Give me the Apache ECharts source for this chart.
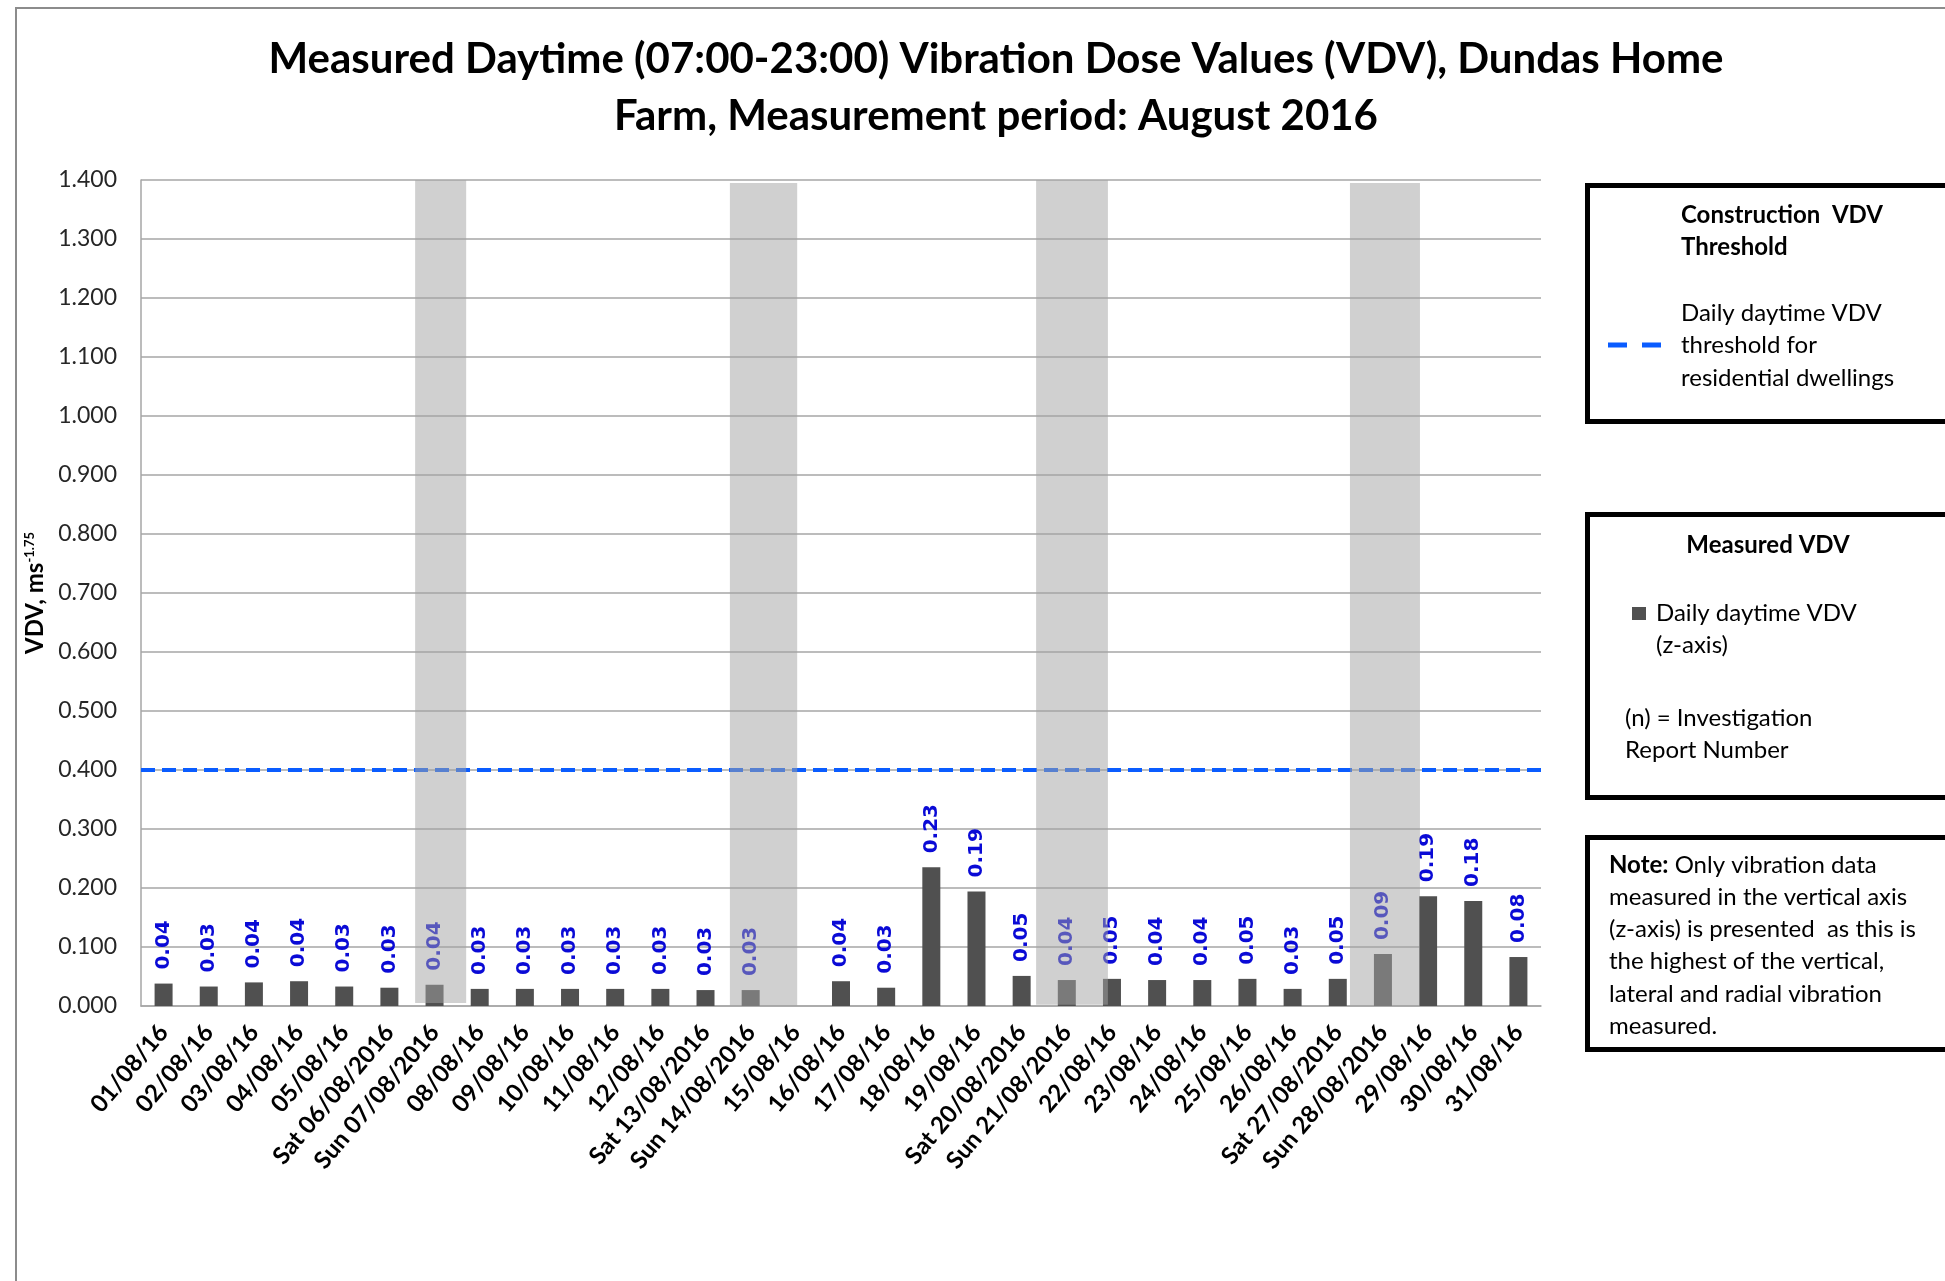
<!DOCTYPE html>
<html>
<head>
<meta charset="utf-8">
<title>Measured Daytime VDV - Dundas Home Farm</title>
<script src="https://cdn.jsdelivr.net/npm/echarts@6/dist/echarts.min.js"></script>
<style>
    html, body { margin: 0; padding: 0; background: #fff; }
    #myEchart { width: 1945px; height: 1281px; }
</style>
</head>
<body>
<div id="myEchart"></div>
<script>
// one entry per day of August 2016
var days = [
    '01/08/16', '02/08/16', '03/08/16', '04/08/16', '05/08/16', 'Sat 06/08/2016', 'Sun 07/08/2016',
    '08/08/16', '09/08/16', '10/08/16', '11/08/16', '12/08/16', 'Sat 13/08/2016', 'Sun 14/08/2016',
    '15/08/16', '16/08/16', '17/08/16', '18/08/16', '19/08/16', 'Sat 20/08/2016', 'Sun 21/08/2016',
    '22/08/16', '23/08/16', '24/08/16', '25/08/16', '26/08/16', 'Sat 27/08/2016', 'Sun 28/08/2016',
    '29/08/16', '30/08/16', '31/08/16'
];
// daily daytime VDV (z-axis), ms^-1.75 ; 15/08 has no measurement
var vdv = [
    0.038, 0.033, 0.040, 0.042, 0.033, 0.031, 0.036,
    0.029, 0.029, 0.029, 0.029, 0.029, 0.027, 0.027,
    null, 0.042, 0.031, 0.235, 0.194, 0.051, 0.044,
    0.046, 0.044, 0.044, 0.046, 0.029, 0.046, 0.088,
    0.186, 0.178, 0.083
];
var threshold = 0.4;
var yMin = 0, yMax = 1.4, yStep = 0.1;
// grey weekend shading: [from day, to day, from VDV, to VDV] (day units from left edge)
var weekendBands = [
    [6.07, 7.20, 0.005, 1.400],
    [13.04, 14.53, -0.003, 1.395],
    [19.82, 21.41, 0.002, 1.400],
    [26.77, 28.32, -0.005, 1.395]
];

var cal = 'Lato, "Open Sans", sans-serif';
var myChart = echarts.init(document.getElementById('myEchart'));

myChart.setOption({
    animation: false,
    backgroundColor: '#fff',
    title: {
        text: 'Measured Daytime (07:00-23:00) Vibration Dose Values (VDV), Dundas Home\nFarm, Measurement period: August 2016',
        left: 991,
        top: 26,
        textAlign: 'center',
        textStyle: {
            fontFamily: cal,
            fontWeight: 'bold',
            fontSize: 42,
            lineHeight: 57,
            color: '#000'
        }
    },
    grid: {
        left: 141,
        right: 404,
        top: 180,
        bottom: 275
    },
    xAxis: [{
        type: 'category',
        data: days,
        axisLine: { lineStyle: { color: '#a6a6a6', width: 1.5 } },
        axisTick: { show: false },
        axisLabel: {
            interval: 0,
            rotate: 50,
            margin: 22,
            color: '#000',
            fontFamily: cal,
            fontWeight: 'bold',
            fontSize: 24
        }
    }, {
        type: 'value',
        min: 0,
        max: days.length,
        show: false
    }],
    yAxis: {
        type: 'value',
        min: yMin,
        max: yMax,
        interval: yStep,
        axisLine: { show: true, lineStyle: { color: '#a6a6a6', width: 1.5 } },
        axisTick: { show: false },
        splitLine: { lineStyle: { color: '#a6a6a6', width: 1.5 } },
        axisLabel: {
            margin: 24,
            fontSize: 23,
            color: '#262626',
            fontFamily: cal,
            formatter: function(v) { return v.toFixed(3); }
        },
        name: '{m|VDV, ms}{s|-1.75}',
        nameLocation: 'middle',
        nameRotate: 90,
        nameGap: 94,
        nameTextStyle: {
            rich: {
                m: { fontFamily: cal, fontWeight: 'bold', fontSize: 24, color: '#000' },
                s: { fontFamily: cal, fontWeight: 'bold', fontSize: 13, color: '#000', verticalAlign: 'top' }
            }
        }
    },
    series: [{
        type: 'bar',
        name: 'Daily daytime VDV (z-axis)',
        data: vdv,
        barWidth: 18,
        itemStyle: { color: '#505050' },
        label: {
            show: true,
            position: 'top',
            rotate: 90,
            align: 'left',
            verticalAlign: 'middle',
            distance: 14,
            color: '#0a0ad6',
            fontFamily: '"DejaVu Sans", sans-serif',
            fontWeight: 'bold',
            fontSize: 20,
            formatter: function(p) { return p.value == null ? '' : p.value.toFixed(2); }
        },
        markLine: {
            silent: true,
            symbol: 'none',
            label: { show: false },
            emphasis: { disabled: true },
            lineStyle: { color: '#0a5cff', width: 4, type: [14, 7] },
            data: [{ yAxis: threshold }]
        }
    }, {
        // weekend shading drawn over the bars, labels and threshold
        type: 'line',
        xAxisIndex: 1,
        data: [],
        z: 20,
        silent: true,
        markArea: {
            silent: true,
            z: 20,
            emphasis: { disabled: true },
            itemStyle: { color: 'rgba(163,163,163,0.51)' },
            data: weekendBands.map(function(b) {
                return [{ xAxis: b[0], yAxis: b[2] }, { xAxis: b[1], yAxis: b[3] }];
            })
        }
    }],
    graphic: [
        // outer chart border (left and top visible)
        { type: 'rect', silent: true, shape: { x: 16, y: 8, width: 2000, height: 1400 },
          style: { fill: 'none', stroke: '#8c8c8c', lineWidth: 2 } },

        // threshold legend box
        { type: 'rect', silent: true, shape: { x: 1587.5, y: 185.5, width: 420, height: 236 },
          style: { fill: '#fff', stroke: '#000', lineWidth: 5 } },
        { type: 'text', silent: true, x: 1681, y: 199,
          style: { text: 'Construction  VDV\nThreshold', fill: '#000', font: 'bold 24px ' + cal, lineHeight: 32, verticalAlign: 'top' } },
        { type: 'line', silent: true, shape: { x1: 1608, y1: 345, x2: 1662, y2: 345 },
          style: { stroke: '#0a5cff', lineWidth: 5, lineDash: [19, 15] } },
        { type: 'text', silent: true, x: 1681, y: 297,
          style: { text: 'Daily daytime VDV\nthreshold for\nresidential dwellings', fill: '#000', font: '24px ' + cal, lineHeight: 32.5, verticalAlign: 'top' } },

        // measured legend box
        { type: 'rect', silent: true, shape: { x: 1587.5, y: 514.5, width: 420, height: 283 },
          style: { fill: '#fff', stroke: '#000', lineWidth: 5 } },
        { type: 'text', silent: true, x: 1768, y: 545,
          style: { text: 'Measured VDV', fill: '#000', font: 'bold 24px ' + cal, align: 'center', verticalAlign: 'middle' } },
        { type: 'rect', silent: true, shape: { x: 1632, y: 607, width: 14, height: 13 },
          style: { fill: '#505050' } },
        { type: 'text', silent: true, x: 1656, y: 597,
          style: { text: 'Daily daytime VDV\n(z-axis)', fill: '#000', font: '24px ' + cal, lineHeight: 32, verticalAlign: 'top' } },
        { type: 'text', silent: true, x: 1625, y: 702,
          style: { text: '(n) = Investigation\nReport Number', fill: '#000', font: '24px ' + cal, lineHeight: 32, verticalAlign: 'top' } },

        // note box
        { type: 'rect', silent: true, shape: { x: 1587.5, y: 837.5, width: 420, height: 212 },
          style: { fill: '#fff', stroke: '#000', lineWidth: 5 } },
        { type: 'text', silent: true, x: 1609, y: 849,
          style: {
              text: '{b|Note:} Only vibration data\nmeasured in the vertical axis\n(z-axis) is presented  as this is\nthe highest of the vertical,\nlateral and radial vibration\nmeasured.',
              fill: '#000', font: '24px ' + cal, lineHeight: 32.2, verticalAlign: 'top',
              rich: { b: { fontWeight: 'bold', fontFamily: cal, fontSize: 24, lineHeight: 32.2 } }
          } }
    ]
});
</script>
</body>
</html>
